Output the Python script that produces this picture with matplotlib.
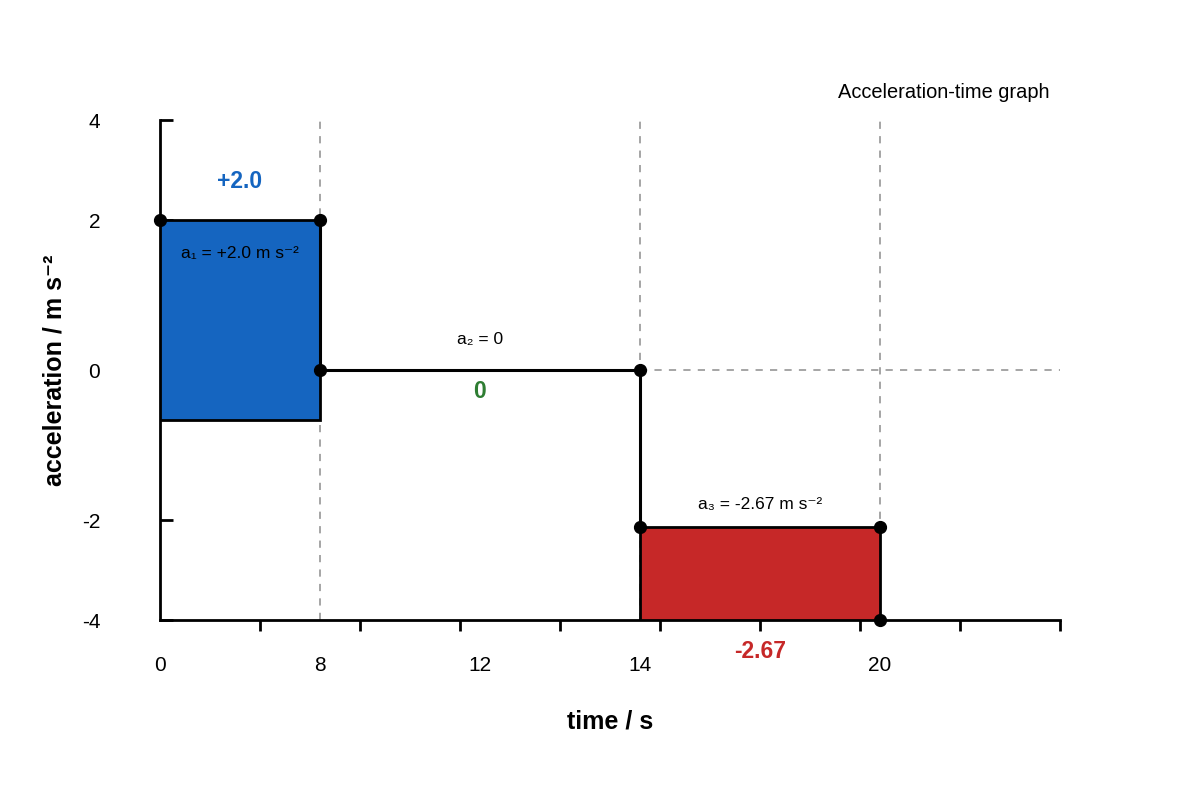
import numpy as np
import matplotlib
matplotlib.use('Agg')
import matplotlib.pyplot as plt

plt.rcParams['font.family'] = ['Liberation Sans', 'DejaVu Sans']

# values
time_labels = [0, 8, 12, 14, 20]
accel_labels = [4, 2, 0, -2, -4]

# segments: start time, end time, top, bottom (as drawn)
seg_start = [0, 14]
seg_end = [8, 20]
seg_top = [2.0, -2.14]
seg_bottom = [-0.67, -4.0]
seg_colors = ['#1565C0', '#C62828']

# the step outline and its corner points
step_t = [8, 8, 14, 14]
step_a = [2.0, 0.0, 0.0, -2.14]
point_t = [0, 8, 8, 14, 14, 20, 20]
point_a = [2.0, 2.0, 0.0, 0.0, -2.14, -2.14, -4.0]

guide_times = [8, 14, 20]

# the chart spaces its ticks unevenly, so use piecewise scales
x_knots = [0, 8, 12, 14, 20, 24.5]
x_disp = [0, 1.6, 3.2, 4.8, 7.2, 9.0]
y_knots = [-8, -4, -2, 0, 2, 4, 8]
y_disp = [-2, 0, 1, 2.5, 4, 5, 7]


def fx(v):
    return np.interp(v, x_knots, x_disp)


def ifx(v):
    return np.interp(v, x_disp, x_knots)


def fy(v):
    return np.interp(v, y_knots, y_disp)


def ify(v):
    return np.interp(v, y_disp, y_knots)


fig = plt.figure(figsize=(12, 8), dpi=100)
ax = fig.add_axes([160 / 1200, 180 / 800, 900 / 1200, 500 / 800])
ax.set_xscale('function', functions=(fx, ifx))
ax.set_yscale('function', functions=(fy, ify))
ax.set_xlim(0, 24.5)
ax.set_ylim(-4, 4)

# dashed guides
for t in guide_times:
    ax.plot([t, t], [-4, 4], color='#9e9e9e', lw=1.3, ls=(0, (4, 4)), zorder=1)
ax.plot([14, 24.5], [0, 0], color='#9e9e9e', lw=1.3, ls=(0, (4, 4)), zorder=1)

# filled blocks
for s, e, top, bot, c in zip(seg_start, seg_end, seg_top, seg_bottom, seg_colors):
    ax.bar(s, top - bot, width=e - s, bottom=bot, align='edge', color=c,
           edgecolor='black', linewidth=2, zorder=3)

ax.plot(step_t, step_a, color='black', lw=2.2, zorder=4)
ax.plot(point_t, point_a, 'o', color='black', ms=8.5, zorder=5, clip_on=False)

# axes styling
for side in ['top', 'right']:
    ax.spines[side].set_visible(False)
for side in ['left', 'bottom']:
    ax.spines[side].set_linewidth(2)
    ax.spines[side].set_zorder(2)

ax.set_xticks(time_labels)
ax.set_xticklabels([str(t) for t in time_labels])
ax.set_xticks(ifx(np.arange(1, 10)), minor=True)
ax.tick_params(axis='x', which='major', length=0, pad=26, labelsize=15)
ax.tick_params(axis='x', which='minor', length=8, width=2, direction='out')

ax.set_yticks(accel_labels)
ax.set_yticklabels([str(a) for a in accel_labels])
ax.yaxis.set_minor_locator(plt.NullLocator())
ax.tick_params(axis='y', length=9, width=2, direction='in', pad=43, labelsize=15)

ax.set_xlabel('time / s', fontsize=18, fontweight='bold', labelpad=25)
ax.set_ylabel('acceleration / m s\u207b\u00b2', fontsize=18, fontweight='bold', labelpad=11)

# annotations
ax.text(4, 2.76, '+2.0', color='#1565C0', fontsize=16.5, fontweight='bold', ha='center', va='center')
ax.text(4, 1.55, 'a\u2081 = +2.0 m s\u207b\u00b2', fontsize=12.5, ha='center', va='center', zorder=6)
ax.text(12, 0.41, 'a\u2082 = 0', fontsize=12.5, ha='center', va='center')
ax.text(12, -0.29, '0', color='#2E7D32', fontsize=16.5, fontweight='bold', ha='center', va='center')
ax.text(17, -1.79, 'a\u2083 = -2.67 m s\u207b\u00b2', fontsize=12.5, ha='center', va='center')
ax.text(17, -4.64, '-2.67', color='#C62828', fontsize=16.5, fontweight='bold', ha='center',
        va='center', clip_on=False)

fig.text(1050 / 1200, 1 - 93 / 800, 'Acceleration-time graph', fontsize=14.4, ha='right', va='center')

fig.savefig('out.png', dpi=100)
